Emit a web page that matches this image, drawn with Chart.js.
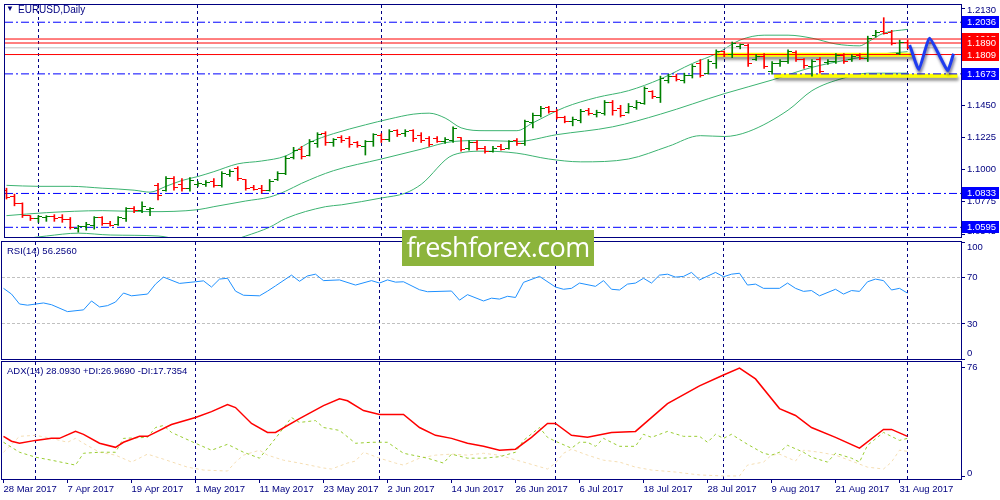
<!DOCTYPE html>
<html>
<head>
<meta charset="utf-8">
<script src="https://cdn.jsdelivr.net/npm/chart.js@4.4.1/dist/chart.umd.min.js"></script>
<style>
html, body { margin: 0; padding: 0; background: #fff; }
#wrap { position: relative; width: 1000px; height: 500px; overflow: hidden; font-family: "Liberation Sans", Arial, sans-serif; }
#wrap canvas { position: absolute; left: 0; }
.lbl { position: absolute; color: #000080; font-size: 9.5px; white-space: nowrap; line-height: 12px; }
#wm { position: absolute; left: 402px; top: 230px; width: 192px; height: 36px; background: #8CB43C; color: #fff;
      font-family: "Open Sans", sans-serif; font-size: 27px; line-height: 34px; text-align: center; letter-spacing: -0.6px; }
</style>
</head>
<body>
<div id="wrap">
  <canvas id="pc" width="1000" height="242" style="top:0"></canvas>
  <canvas id="rc" width="1000" height="122" style="top:240px"></canvas>
  <canvas id="ac" width="1000" height="140" style="top:360px"></canvas>
  <div class="lbl" style="left:6px;top:3px;font-size:8px">&#9660;</div>
  <div class="lbl" style="left:18px;top:4px;font-size:10px">EURUSD,Daily</div>
  <div class="lbl" style="left:7px;top:245px">RSI(14) 56.2560</div>
  <div class="lbl" style="left:7px;top:365px">ADX(14) 28.0930 +DI:26.9690 -DI:17.7354</div>
  <div id="wm">freshforex.com</div>
</div>
<script>
// ============================================================
// EURUSD daily — bars + Bollinger, RSI(14), ADX(14)
// ============================================================

// ---- price bars (bar index 0 = 28 Mar 2017) ----
var opens = [
  1.0856,1.0814,1.0760,1.0677,1.0657,1.0664,1.0670,1.0664,1.0650,1.0589,
  1.0603,1.0609,1.0664,1.0623,1.0616,1.0657,1.0726,1.0712,1.0719,1.0890,
  1.0856,1.0938,1.0897,1.0870,1.0897,1.0897,1.0917,1.0890,1.0965,1.1007,
  1.0931,1.0877,1.0870,1.0856,1.0931,1.0972,1.1089,1.1144,1.1103,1.1185,
  1.1253,1.1191,1.1226,1.1219,1.1191,1.1164,1.1198,1.1239,1.1212,1.1274,
  1.1253,1.1274,1.1239,1.1219,1.1219,1.1198,1.1205,1.1226,1.1150,1.1191,
  1.1150,1.1130,1.1164,1.1150,1.1205,1.1185,1.1329,1.1383,1.1438,1.1411,
  1.1370,1.1342,1.1349,1.1418,1.1390,1.1397,1.1472,1.1431,1.1404,1.1438,
  1.1465,1.1548,1.1507,1.1630,1.1657,1.1630,1.1664,1.1746,1.1678,1.1746,
  1.1829,1.1808,1.1863,1.1870,1.1774,1.1794,1.1692,1.1746,1.1760,1.1822,
  1.1774,1.1726,1.1774,1.1753,1.1760,1.1801,1.1774,1.1801,1.1781,1.1945,
  1.1972,1.1966,1.1815,1.1897];
var highs = [
  1.0870,1.0828,1.0767,1.0677,1.0677,1.0677,1.0684,1.0684,1.0664,1.0609,
  1.0630,1.0670,1.0670,1.0637,1.0670,1.0733,1.0740,1.0774,1.0733,1.0904,
  1.0952,1.0952,1.0938,1.0945,1.0917,1.0924,1.0938,1.0986,1.1000,1.1021,
  1.0931,1.0890,1.0890,1.0931,1.0986,1.1096,1.1157,1.1164,1.1212,1.1260,
  1.1267,1.1219,1.1239,1.1233,1.1198,1.1205,1.1253,1.1253,1.1281,1.1281,
  1.1281,1.1281,1.1260,1.1233,1.1233,1.1226,1.1301,1.1226,1.1205,1.1205,
  1.1164,1.1164,1.1178,1.1205,1.1219,1.1349,1.1397,1.1445,1.1445,1.1424,
  1.1376,1.1370,1.1424,1.1431,1.1418,1.1486,1.1486,1.1452,1.1465,1.1486,
  1.1582,1.1555,1.1657,1.1671,1.1671,1.1678,1.1739,1.1774,1.1774,1.1842,
  1.1835,1.1897,1.1883,1.1883,1.1808,1.1815,1.1760,1.1774,1.1842,1.1835,
  1.1781,1.1774,1.1787,1.1774,1.1815,1.1815,1.1808,1.1815,1.1938,1.1979,
  1.2068,1.1979,1.1910,1.1910];
var lows = [
  1.0794,1.0746,1.0664,1.0643,1.0630,1.0637,1.0637,1.0630,1.0582,1.0561,
  1.0575,1.0582,1.0609,1.0603,1.0609,1.0637,1.0698,1.0698,1.0677,1.0787,
  1.0849,1.0856,1.0849,1.0849,1.0883,1.0883,1.0877,1.0877,1.0952,1.0924,
  1.0856,1.0856,1.0835,1.0849,1.0924,1.0965,1.1075,1.1075,1.1096,1.1157,
  1.1171,1.1164,1.1191,1.1157,1.1157,1.1103,1.1164,1.1191,1.1198,1.1233,
  1.1233,1.1198,1.1191,1.1164,1.1191,1.1185,1.1191,1.1130,1.1137,1.1137,
  1.1116,1.1123,1.1137,1.1144,1.1171,1.1171,1.1294,1.1370,1.1397,1.1356,
  1.1329,1.1308,1.1329,1.1383,1.1370,1.1383,1.1383,1.1370,1.1397,1.1424,
  1.1459,1.1500,1.1472,1.1609,1.1623,1.1609,1.1644,1.1650,1.1671,1.1712,
  1.1794,1.1787,1.1849,1.1726,1.1767,1.1712,1.1671,1.1726,1.1746,1.1760,
  1.1712,1.1657,1.1678,1.1739,1.1746,1.1746,1.1760,1.1774,1.1760,1.1931,
  1.1952,1.1876,1.1808,1.1849];
var closes = [
  1.0808,1.0760,1.0677,1.0657,1.0670,1.0670,1.0657,1.0650,1.0596,1.0603,
  1.0616,1.0664,1.0623,1.0609,1.0664,1.0726,1.0712,1.0740,1.0726,1.0822,
  1.0938,1.0877,1.0870,1.0924,1.0904,1.0911,1.0890,1.0972,1.0986,1.0938,
  1.0870,1.0863,1.0856,1.0917,1.0972,1.1082,1.1137,1.1096,1.1198,1.1246,
  1.1191,1.1212,1.1205,1.1178,1.1171,1.1198,1.1246,1.1212,1.1267,1.1246,
  1.1267,1.1219,1.1205,1.1178,1.1198,1.1212,1.1287,1.1144,1.1191,1.1150,
  1.1130,1.1150,1.1144,1.1198,1.1185,1.1335,1.1383,1.1431,1.1411,1.1370,
  1.1342,1.1356,1.1411,1.1397,1.1404,1.1472,1.1418,1.1383,1.1445,1.1472,
  1.1568,1.1513,1.1644,1.1657,1.1637,1.1664,1.1726,1.1664,1.1760,1.1829,
  1.1808,1.1883,1.1876,1.1746,1.1794,1.1726,1.1746,1.1760,1.1829,1.1774,
  1.1733,1.1760,1.1692,1.1760,1.1801,1.1760,1.1794,1.1781,1.1924,1.1966,
  1.1959,1.1890,1.1897,1.1856];

// ---- Bollinger bands (read at these bar indexes) ----
var bbUpperIdx = [0,4,8,12,16,18,20,22,24,26,29,32,35,38,41,45,48,51,53,55,57,60,64,66,70,74,78,82,86,89,92,95,98,101,104,107,108,110,113];
var bbUpper = [1.0890,1.0883,1.0883,1.0870,1.0856,1.0842,1.0883,1.0924,1.0952,1.0986,
               1.1041,1.1061,1.1096,1.1191,1.1253,1.1315,1.1356,1.1390,1.1397,1.1363,
               1.1294,1.1274,1.1274,1.1329,1.1438,1.1507,1.1555,1.1637,1.1746,1.1815,
               1.1911,1.1945,1.1945,1.1924,1.1883,1.1870,1.1897,1.1959,1.1986];
var bbMidIdx = [0,5,12,18,24,26,30,33,35,37,41,47,52,56,60,64,69,76,82,90,96,101,105,109,113];
var bbMid = [1.0677,1.0698,1.0712,1.0705,1.0719,1.0740,1.0780,1.0808,1.0849,1.0904,
             1.0993,1.1075,1.1144,1.1198,1.1205,1.1198,1.1246,1.1301,1.1390,1.1534,
             1.1630,1.1719,1.1767,1.1808,1.1829];
var bbLowIdx = [0,5,9,13,19,24,28,30,33,35,40,42,47,50,52,56,60,64,68,72,78,83,87,90,93,98,101,105,108,113];
var bbLow = [1.0500,1.0534,1.0554,1.0541,1.0534,1.0486,1.0500,1.0534,1.0596,1.0657,
             1.0740,1.0753,1.0801,1.0835,1.0897,1.1103,1.1130,1.1116,1.1075,1.1055,
             1.1075,1.1164,1.1239,1.1233,1.1267,1.1418,1.1555,1.1644,1.1678,1.1678];

// ---- drawn levels and marks ----
var levelPrice = [1.2036, 1.1918, 1.1890, 1.1856, 1.1809, 1.1673, 1.0833, 1.0595];
var boxPrice = [1.1918, 1.1890, 1.1809, 1.2036, 1.1673, 1.0833, 1.0595];
var yellowFrom = [88.8, 96.25];
var yellowTo = [113.6, 119.25];
var yellowPrice = [1.1807, 1.1660];
var arrowIdx = [113.25, 114.4, 115.75, 118, 118.75];
var arrowPrice = [1.1876, 1.1705, 1.1924, 1.1698, 1.1815];
var priceTicks = [1.2130, 1.1450, 1.1225, 1.1000, 1.0775, 1.0545];

// ---- RSI(14) ----
var rsiIdx = [0,1,2,3,5,6,8,10,11,12,13,14,15,16,18,19,20,22,24,25,26,27,28,29,30,32,33,34,36,37,
              38,39,40,42,44,46,47,48,49,50,52,53,56,57,58,60,61,62,63,64,65,67,69,70,71,72,74,75,76,77,
              78,79,80,81,82,83,84,85,86,87,89,90,91,92,93,94,95,97,98,99,100,101,102,104,105,106,107,108,109,110,
              111,112,113];
var rsiVal = [60.4,55.5,47,46,47.9,46.4,40.5,42,49.6,44.5,45.6,48.7,56.4,54,55.5,64,70,64.6,66,66.8,
              61.5,68.3,69,58,54.5,54,58,62.5,71.7,66.4,71,72.5,67,67.6,63.2,67,64.9,67.6,65.7,66,
              59.2,57.5,58.1,50.3,55,49.6,52,51.2,53.6,52.6,65.5,70.6,61.5,59.6,60.4,64.9,62.1,67,59.6,59,
              64,64.9,69,64.9,71.7,72.5,70,70.6,74,67.6,74,70.3,72.5,73.3,63.2,64,60.4,60.4,64.9,60.4,
              57.8,58.5,54,59.6,55.5,58.5,57.8,66,68.3,67,59,60.4,56.3];
var rsiTicks = [100, 70, 30, 0];

// ---- ADX(14), +DI, -DI ----
var adxIdx = [0,1,2,4,6,7,9,10,12,14,15,17,18,21,24,26,28,29,31,33,34,37,40,42,43,45,47,50,52,54,
              56,58,60,62,64,66,68,69,71,73,76,79,83,87,90,92,94,97,99,101,104,107,110,111,113];
var adxVal = [28.1,24.7,23.3,25.3,26.7,26.7,31.5,29.5,23.3,20.5,24,28.1,28.1,36.3,41.1,45.2,50,48,37,30.8,
              30.8,40.4,49.3,54.1,52.7,45.9,43.2,43.2,34.2,28.8,26.7,23.3,21.2,18.5,19.2,27.4,37,37,28.8,27.4,
              30.8,31.5,50.7,63,70.5,75.3,67.8,47.3,42.5,34.2,27.4,19.9,32.9,32.9,28.1];
var pdiIdx = [0,2,4,6,9,10,12,14,15,18,19,20,21,24,26,28,30,32,34,36,37,39,40,42,44,46,48,50,53,55,
              56,58,60,62,64,65,67,68,69,71,72,73,74,75,77,79,80,81,83,85,87,88,89,90,91,93,95,96,97,98,
              100,101,103,104,106,107,108,110,112,113];
var pdiVal = [24,17.1,13.7,11.6,8.2,16.4,17.1,17.1,26.7,27.4,34.2,35.6,30.8,23.3,18.5,22.6,17.1,13,26.7,41.1,
              37.7,39,34.2,32.2,23.3,24,24,16.4,13,9.6,15.8,13,13,14,17.1,25.3,34.2,27.4,24.7,19.9,
              24,24,21.2,26.7,21.2,21.2,29.5,27.4,31.5,28.1,28.1,24,29.5,26.7,29.5,22.6,16.4,15.1,17.1,21.9,
              17.1,13.7,10.3,16.4,13,10.3,21.9,30.8,25.3,26.7];
var mdiIdx = [0,2,4,6,8,9,10,12,14,16,18,20,23,25,28,29,30,32,33,35,37,40,41,43,44,45,47,49,50,52,
              54,56,58,60,62,65,68,69,70,71,73,75,77,79,81,84,87,90,92,93,95,96,97,99,100,102,104,106,108,110,
              111,112,113];
var mdiVal = [17.1,28.1,28.8,26.7,24,26.7,23.3,17.1,15.1,10.3,15.8,12.3,6.8,4.8,4.1,10.3,15.1,18.5,15.1,11.6,
              9.6,6.2,5.5,9.6,11,17.1,13,9.6,8.2,13,15.1,15.8,15.1,16.4,15,10.3,5.5,9.6,16.4,19.2,
              15.1,11.6,10.3,6.8,4.8,3.4,1.4,0.7,0.7,8.2,10.3,15.1,15.8,11,18.5,17.1,15.1,11,6.8,5.5,
              10.3,18.5,17.7];
var adxTicks = [76, 0];

// ---- time axis ----
var dateTickIdx = [0,8,16,24,32,40,48,56,64,72,80,88,96,104,112];
var dateLabels = ['28 Mar 2017','7 Apr 2017','19 Apr 2017','1 May 2017','11 May 2017','23 May 2017','2 Jun 2017',
                  '14 Jun 2017','26 Jun 2017','6 Jul 2017','18 Jul 2017','28 Jul 2017','9 Aug 2017','21 Aug 2017','31 Aug 2017'];
var monthStartIdx = [4, 24, 47, 69, 90, 113];

// ============================================================
// STYLE
// ============================================================
var NAVY = '#000080';
var UP = '#008000', DOWN = '#FF0000';
var BB = '#3CB371';
// bars land on half-pixel centres so 1px strokes stay crisp
var X_MIN = -0.1875, X_MAX = 119.6875;
var levelColor = ['#0000FF', '#FF0000', '#FF0000', '#C0C0C0', '#FF0000', '#0000FF', '#0000FF', '#0000FF'];
var levelDash  = [[8,3,2,3], [], [], [], [], [8,3,2,3], [8,3,2,3], [8,3,2,3]];
var boxColor = ['#FF0000', '#FF0000', '#FF0000', '#0000FF', '#0000FF', '#0000FF', '#0000FF'];
var FONT = '"Liberation Sans", Arial, sans-serif';

Chart.defaults.font.family = FONT;
Chart.defaults.font.size = 9.5;
Chart.defaults.color = NAVY;

function pts(xs, ys) { return xs.map(function(x, k) { return { x: x, y: ys[k] }; }); }

function tickImg(color, open) {
  var cv = document.createElement('canvas');
  cv.width = 8; cv.height = 1;
  var g = cv.getContext('2d');
  g.fillStyle = color;
  g.fillRect(open ? 0 : 4, 0, 4, 1);
  return cv;
}
var upOpen = tickImg(UP, true), upClose = tickImg(UP, false);
var dnOpen = tickImg(DOWN, true), dnClose = tickImg(DOWN, false);
function isUp(i) { return closes[i] >= opens[i]; }

// ---- plugins ----
var framePlugin = {
  id: 'frame',
  afterDraw: function(chart) {
    var a = chart.chartArea, c = chart.ctx;
    c.save();
    c.strokeStyle = NAVY; c.lineWidth = 1;
    c.strokeRect(Math.round(a.left) - 0.5, Math.round(a.top) - 0.5,
                 Math.round(a.right - a.left) + 1, Math.round(a.bottom - a.top) + 1);
    c.restore();
  }
};

function axisText(fmt) {
  return {
    id: 'axisText',
    afterDraw: function(chart) {
      var y = chart.scales.y, a = chart.chartArea, c = chart.ctx;
      c.save();
      c.fillStyle = NAVY; c.font = '9.5px ' + FONT; c.textBaseline = 'middle';
      y.ticks.forEach(function(t) {
        var py = Math.min(Math.max(y.getPixelForValue(t.value), a.top + 5), a.bottom - 6);
        c.fillText(fmt(t.value), a.right + 6, py);
      });
      c.restore();
    }
  };
}

var levelBoxes = {
  id: 'levelBoxes',
  afterDraw: function(chart) {
    var y = chart.scales.y, a = chart.chartArea, c = chart.ctx;
    c.save();
    c.font = '9.5px ' + FONT; c.textBaseline = 'middle';
    boxPrice.forEach(function(p, k) {
      var py = Math.round(y.getPixelForValue(p));
      c.fillStyle = boxColor[k];
      c.fillRect(a.right + 1, py - 6, 1000 - a.right - 2, 12);
      c.fillStyle = '#fff';
      c.fillText(p.toFixed(4), a.right + 6, py);
    });
    c.restore();
  }
};

var shadowPlugin = {
  id: 'shadow',
  beforeDatasetDraw: function(chart, args) {
    var ds = chart.data.datasets[args.index];
    if (!ds.shadow) return;
    var c = chart.ctx;
    c.save();
    c.shadowColor = ds.shadow; c.shadowBlur = 3; c.shadowOffsetX = 1; c.shadowOffsetY = 3;
  },
  afterDatasetDraw: function(chart, args) {
    if (chart.data.datasets[args.index].shadow) chart.ctx.restore();
  }
};

// the bar dataset would otherwise bring offset:true onto the x scale
function gridX() {
  return {
    type: 'linear', min: X_MIN, max: X_MAX, position: 'bottom', offset: false,
    ticks: { display: false },
    grid: { color: NAVY, drawTicks: false, lineWidth: 1, offset: false },
    border: { display: false, dash: [3, 3] },
    afterBuildTicks: function(s) { s.ticks = monthStartIdx.map(function(v) { return { value: v }; }); },
    afterFit: function(s) { s.height = 0; }
  };
}

function rightY(min, max, tickVals, gridOpts) {
  return {
    type: 'linear', position: 'right', min: min, max: max, beginAtZero: false,
    ticks: { display: false },
    grid: Object.assign({ drawOnChartArea: false, drawTicks: true, tickLength: 4, tickColor: NAVY }, gridOpts || {}),
    border: { color: NAVY, width: 1 },
    afterBuildTicks: function(s) { s.ticks = tickVals.map(function(v) { return { value: v }; }); },
    afterFit: function(s) { s.width = 39; }
  };
}

var baseOpts = {
  responsive: false, animation: false, events: [], devicePixelRatio: 1,
  plugins: { legend: { display: false }, tooltip: { enabled: false } }
};

// ============================================================
// PRICE PANE
// ============================================================
var dsA = [];
dsA.push({ type: 'line', data: pts(arrowIdx, arrowPrice), borderColor: '#1E3CF0', borderWidth: 3,
           pointRadius: 0, tension: 0.15, order: 0, shadow: 'rgba(0,0,60,0.55)' });
dsA.push({ type: 'line', data: pts(opens.map(function(v, i) { return i; }), opens), showLine: false,
           pointRadius: 3, pointStyle: function(ctx) { return isUp(ctx.dataIndex) ? upOpen : dnOpen; }, order: 1 });
dsA.push({ type: 'line', data: pts(closes.map(function(v, i) { return i; }), closes), showLine: false,
           pointRadius: 3, pointStyle: function(ctx) { return isUp(ctx.dataIndex) ? upClose : dnClose; }, order: 1 });
dsA.push({ type: 'bar', data: highs.map(function(h, i) { return { x: i, y: [lows[i], h] }; }),
           backgroundColor: highs.map(function(h, i) { return isUp(i) ? UP : DOWN; }),
           barThickness: 1, borderWidth: 0, order: 2 });
levelPrice.forEach(function(p, k) {
  dsA.push({ type: 'line', data: [{ x: X_MIN, y: p }, { x: X_MAX, y: p }], borderColor: levelColor[k],
             borderWidth: 1, borderDash: levelDash[k], pointRadius: 0, order: 3 });
});
yellowPrice.forEach(function(p, k) {
  dsA.push({ type: 'line', data: [{ x: yellowFrom[k], y: p }, { x: yellowTo[k], y: p }], borderColor: '#FFFF00',
             borderWidth: 4, pointRadius: 0, order: 4, shadow: 'rgba(0,0,0,0.45)' });
});
[[bbUpperIdx, bbUpper], [bbMidIdx, bbMid], [bbLowIdx, bbLow]].forEach(function(b) {
  dsA.push({ type: 'line', data: pts(b[0], b[1]), borderColor: BB, borderWidth: 1, pointRadius: 0,
             cubicInterpolationMode: 'monotone', order: 5 });
});

new Chart(document.getElementById('pc'), {
  type: 'line',
  data: { datasets: dsA },
  options: Object.assign({}, baseOpts, {
    layout: { padding: { left: 2, top: 2, right: 0, bottom: 2 } },
    scales: { x: gridX(), y: rightY(1.0527, 1.2157, priceTicks) }
  }),
  plugins: [shadowPlugin, framePlugin, axisText(function(v) { return v.toFixed(4); }), levelBoxes]
});

// ============================================================
// RSI PANE
// ============================================================
new Chart(document.getElementById('rc'), {
  type: 'line',
  data: { datasets: [{ data: pts(rsiIdx, rsiVal), borderColor: '#1E90FF', borderWidth: 1, pointRadius: 0 }] },
  options: Object.assign({}, baseOpts, {
    layout: { padding: { left: 2, top: 2, right: 0, bottom: 3 } },
    scales: {
      x: gridX(),
      y: Object.assign(rightY(0, 100, rsiTicks, {
        drawOnChartArea: true,
        color: function(ctx) { return ctx.tick && (ctx.tick.value === 70 || ctx.tick.value === 30) ? '#C0C0C0' : 'rgba(0,0,0,0)'; }
      }), { border: { color: NAVY, width: 1, dash: [3, 2] } })
    }
  }),
  plugins: [framePlugin, axisText(function(v) { return String(v); })]
});

// ============================================================
// ADX PANE + TIME AXIS
// ============================================================
new Chart(document.getElementById('ac'), {
  type: 'line',
  data: { datasets: [
    { data: pts(adxIdx, adxVal), borderColor: '#FF0000', borderWidth: 1.5, pointRadius: 0, order: 0 },
    { data: pts(pdiIdx, pdiVal), borderColor: '#9ACD32', borderWidth: 1, borderDash: [3, 3], pointRadius: 0, order: 1 },
    { data: pts(mdiIdx, mdiVal), borderColor: '#F5DEB3', borderWidth: 1, borderDash: [3, 3], pointRadius: 0, order: 2 }
  ] },
  options: Object.assign({}, baseOpts, {
    layout: { padding: { left: 2, top: 2, right: 0, bottom: 0 } },
    scales: {
      x: gridX(),
      xd: {
        type: 'linear', min: X_MIN, max: X_MAX, position: 'bottom',
        ticks: {
          autoSkip: false, maxRotation: 0, minRotation: 0, align: 'start', padding: 1, color: NAVY,
          font: { size: 9.5 },
          callback: function(v) { var k = dateTickIdx.indexOf(v); return k >= 0 ? dateLabels[k] : ''; }
        },
        grid: { drawOnChartArea: false, drawTicks: true, tickLength: 4, tickColor: NAVY },
        border: { color: NAVY },
        afterBuildTicks: function(s) { s.ticks = dateTickIdx.map(function(v) { return { value: v }; }); },
        afterFit: function(s) { s.height = 21; }
      },
      y: rightY(-1.4, 79.5, adxTicks)
    }
  }),
  plugins: [framePlugin, axisText(function(v) { return String(v); })]
});
</script>
</body>
</html>
